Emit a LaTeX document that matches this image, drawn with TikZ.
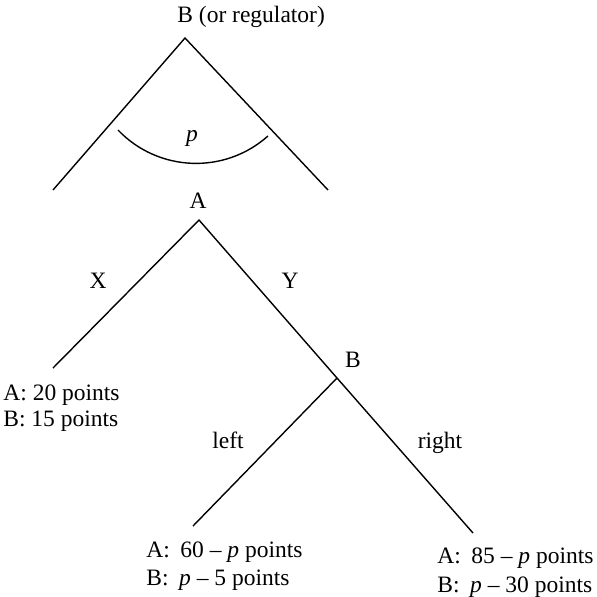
\documentclass[tikz,border=0pt]{standalone}
\usepackage{fontspec}
\setmainfont{Liberation Serif}
\usetikzlibrary{positioning}

\begin{document}
\begin{tikzpicture}[
    x=0.5pt, y=-0.5pt,
    branch/.style={line width=0.7pt},
    lbl/.style={inner sep=0pt, font=\fontsize{11.75}{14}\selectfont, anchor=base},
    pay/.style={lbl, anchor=base west}
]
\useasboundingbox (0,0) rectangle (597,596);
% regulator picks p
\coordinate (reg) at (185,38);
\coordinate (regL) at (53,190);
\coordinate (regR) at (328,190);
\coordinate (arcL) at (118,130);
\node[lbl, anchor=base west] (regname) at (177,22) {B (or regulator)};
\draw[branch] (regL) -- (reg) -- (regR);
\draw[branch] (arcL) arc[start angle=136.3, end angle=48.3, radius=108];
\node[lbl] (p) at (192,141) {\textit{p}};

% the game between A and B
\coordinate (a) at (199,220);
\coordinate (x) at (53,368);
\coordinate (b) at (337,378);
\coordinate (bl) at (193,526);
\coordinate (br) at (473,533);
\draw[branch] (x) -- (a) -- (b) -- (br);
\draw[branch] (b) -- (bl);

\node[lbl] (aname) at (198,208) {A};
\node[lbl] (xlab) at (98,288) {X};
\node[lbl] (ylab) at (290,288) {Y};
\node[lbl] (bname) at (353,367) {B};
\node[lbl] (leftlab) at (228,448) {left};
\node[lbl] (rightlab) at (440,448) {right};

% payoffs
\node[pay] (xA) at (3,400) {A: 20 points};
\node[pay] (xB) at (3,426) {B: 15 points};
\node[pay] (blA) at (146,557) {A:\hspace{.45em}60 -- \textit{p} points};
\node[pay] (blB) at (146,585) {B:\hspace{.45em}\textit{p} -- 5 points};
\node[pay] (brA) at (437,563) {A:\hspace{.45em}85 -- \textit{p} points};
\node[pay] (brB) at (437,592) {B:\hspace{.45em}\textit{p} -- 30 points};
\end{tikzpicture}
\end{document}
